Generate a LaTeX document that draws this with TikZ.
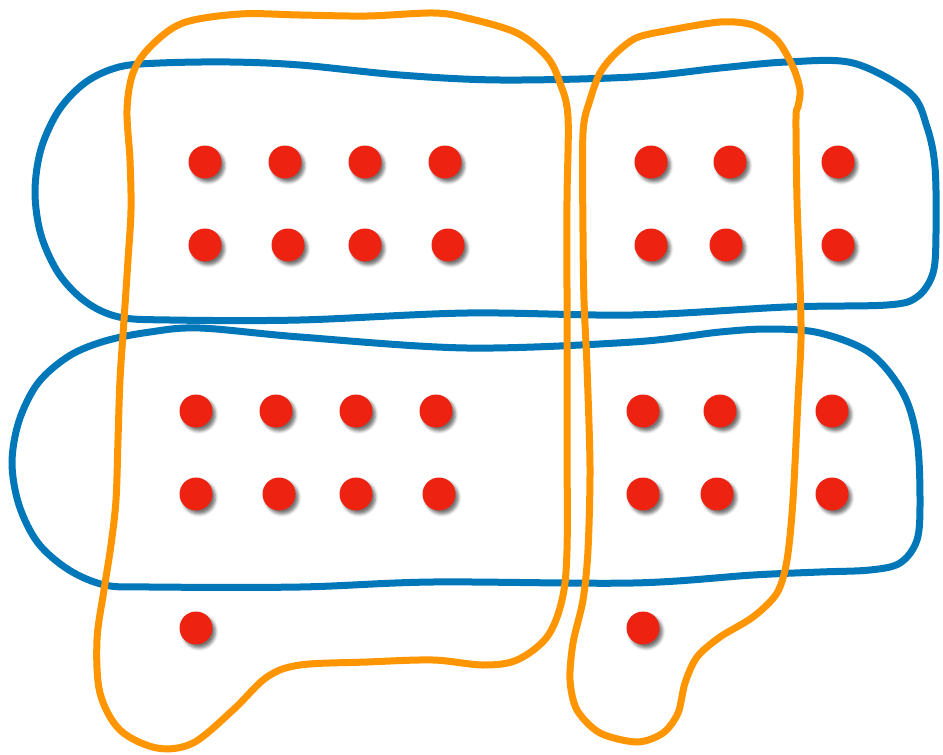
\documentclass[tikz,border=0pt]{standalone}
\usetikzlibrary{shadows.blur}
\definecolor{dotred}{HTML}{EE2211}
\definecolor{loopblue}{HTML}{0077B9}
\definecolor{looporange}{HTML}{FF9500}
\begin{document}
\begin{tikzpicture}[x=1pt,y=-1pt,
  dot/.style={circle,fill=dotred,minimum size=33pt,inner sep=0pt,
    blur shadow={shadow xshift=3pt,shadow yshift=-3.5pt,shadow blur radius=3pt,shadow opacity=55}},
  blueloop/.style={draw=loopblue,line width=7pt,line join=round},
  orangeloop/.style={draw=looporange,line width=7pt,line join=round}]
\useasboundingbox (0,0) rectangle (943,755);
% dots
\foreach \x [count=\i] in {205,285,365,445,651,730,838} \node[dot] (a\i) at (\x,162) {};
\foreach \x [count=\i] in {205,288,365,448,651,726,838} \node[dot] (b\i) at (\x,245) {};
\foreach \x [count=\i] in {196,276,356,436,643,720,832} \node[dot] (c\i) at (\x,411) {};
\foreach \x [count=\i] in {196,279,356,439,643,717,832} \node[dot] (d\i) at (\x,494) {};
\node[dot] (e1) at (196,628) {};
\node[dot] (e2) at (643,628) {};
% blue loops
\draw[blueloop] plot[smooth cycle,tension=0.55] coordinates {
 (160,63) (230,62) (300,65) (400,75) (500,80) (633,77) (720,68) (787,62) (853,63)
 (910,93) (927,127) (935,167) (936,233) (933,273) (917,297) (887,305)
 (787,307) (633,315) (467,313) (300,320) (170,320)
 (119,317) (86,302) (59,274) (41,235) (35,192) (41,149) (59,110) (86,82) (119,67)};
\draw[blueloop] plot[smooth cycle,tension=0.55] coordinates {
 (200,328) (300,337) (467,348) (633,342) (720,332) (770,329) (820,333)
 (870,353) (903,393) (917,440) (920,500) (917,540) (900,563) (870,570)
 (820,572) (753,575) (633,583) (433,582) (300,587) (150,587)
 (105,585) (69,570) (38,543) (19,505) (12,463) (19,421) (38,383) (69,356) (105,341) (150,332)};
% orange loops
\draw[orangeloop] plot[smooth cycle,tension=0.55] coordinates {
 (240,14) (300,15) (367,16) (433,13) (467,18) (517,33) (547,57) (560,83)
 (568,117) (567,200) (567,300) (567,433) (567,550) (562,600) (547,637)
 (517,660) (483,665) (433,660) (367,662) (300,665) (267,677) (233,710)
 (193,743) (157,748) (120,730) (100,693) (97,640) (104,590) (111,545)
 (116,500) (118,440) (120,380) (124,320) (128,260) (131,210) (130,160) (127,110)
 (133,73) (150,47) (183,23)};
\draw[orangeloop] plot[smooth cycle,tension=0.5] coordinates {
 (636,38) (665,31) (720,22) (753,25) (777,40) (793,67) (800,90) (798,107)
 (796,118) (797,200) (800,283) (801,340) (798,400) (793,500) (787,560)
 (777,593) (753,617) (720,637) (697,657) (685,683) (678,713) (663,733)
 (637,742) (600,733) (577,710) (570,680) (573,643) (583,600) (588,550)
 (590,467) (587,367) (584,300) (583,233) (583,133) (590,100) (600,73) (615,54)};
\end{tikzpicture}
\end{document}
